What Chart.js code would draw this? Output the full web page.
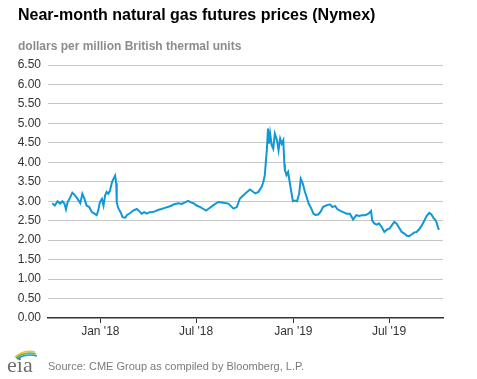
<!DOCTYPE html>
<html>
<head>
<meta charset="utf-8">
<script src="https://cdn.jsdelivr.net/npm/chart.js@4/dist/chart.umd.min.js"></script>
<style>
  html, body { margin:0; padding:0; background:#fff; }
  #wrap { position:relative; width:477px; height:379px; overflow:hidden; font-family:"Liberation Sans", Arial, sans-serif; }
  #title { position:absolute; left:18px; top:6px; font-size:16px; font-weight:bold; color:#000; white-space:nowrap; }
  #subtitle { position:absolute; left:18px; top:39px; font-size:12px; font-weight:bold; color:#8c8c8c; white-space:nowrap; }
  #source { position:absolute; left:48px; top:360px; font-size:11px; color:#7a7a7a; white-space:nowrap; }
  #logo { position:absolute; left:6px; top:348px; }
  canvas { position:absolute; left:0; top:0; }
</style>
</head>
<body>
<div id="wrap">
  <canvas id="c" width="477" height="379"></canvas>
  <div id="title">Near-month natural gas futures prices (Nymex)</div>
  <div id="subtitle">dollars per million British thermal units</div>
  <svg id="logo" width="34" height="28" viewBox="0 0 34 28">
    <path d="M9 9 Q18 1 29 4" stroke="#f2c318" stroke-width="1.6" fill="none"/>
    <path d="M10 10 Q19 3 30 6" stroke="#7ab648" stroke-width="1.6" fill="none"/>
    <path d="M11 11 Q20 5 31 8" stroke="#1a9bd7" stroke-width="1.6" fill="none"/>
    <text x="1" y="24" font-family="Liberation Serif, DejaVu Serif, serif" font-size="22" fill="#6d6e70">eia</text>
  </svg>
  <div id="source">Source: CME Group as compiled by Bloomberg, L.P.</div>
</div>
<script>
// days since Jan 1, 2018
const dayOffsets = [
  -91,-86,-81,-76,-72,-68,-65,-62,-57,-53,-48,-43,-38,-34,-30,-26,-21,-16,-11,-7,-4,-1,
  3,6,9,12,15,18,22,25,28,30,31,34,39,42,47,
  50,56,62,69,74,78,83,88,93,97,103,110,116,122,129,135,141,148,154,160,166,171,176,182,189,195,200,204,
  214,223,233,242,252,258,264,274,283,293,299,305,308,311,313,315,317,
  319,321,324,327,330,334,337,340,343,346,348,349,352,355,358,361,364,368,372,376,379,383,386,390,394,399,403,
  407,412,417,421,425,429,434,439,444,448,453,459,466,472,478,484,490,494,501,507,512,514,518,523,527,532,537,
  542,547,551,556,560,565,570,575,579,584,589,594,598,603,608,613,617,622,626,630,633,636,639,641
];
// near-month price, dollars per MMBtu
const prices = [
  2.95,2.89,3.00,2.94,3.00,2.94,2.79,2.97,3.10,3.22,3.15,3.06,2.95,3.19,3.06,2.89,2.85,2.72,2.68,2.64,2.76,2.97,
  3.06,2.89,3.15,3.24,3.19,3.26,3.49,3.58,3.66,3.46,2.97,2.82,2.70,2.59,2.58,
  2.64,2.69,2.76,2.80,2.74,2.68,2.72,2.68,2.72,2.72,2.74,2.78,2.80,2.83,2.86,2.89,2.93,2.95,2.93,2.97,3.01,2.97,2.95,2.89,2.85,2.80,2.76,2.80,
  2.90,2.98,2.96,2.94,2.81,2.85,3.07,3.20,3.30,3.20,3.24,3.37,3.48,3.67,4.01,4.35,4.87,
  4.48,4.74,4.44,4.35,4.74,4.57,4.31,4.61,4.48,4.57,3.95,3.80,3.67,3.75,3.50,3.25,3.00,3.02,3.00,3.20,3.58,3.45,3.28,3.11,2.94,2.81,2.68,
  2.65,2.66,2.74,2.85,2.88,2.90,2.92,2.85,2.88,2.80,2.76,2.72,2.68,2.68,2.53,2.64,2.62,2.64,2.64,2.68,2.75,2.51,2.43,2.40,2.43,2.34,2.21,
  2.27,2.30,2.38,2.47,2.43,2.32,2.21,2.17,2.12,2.10,2.15,2.20,2.21,2.28,2.38,2.51,2.62,2.70,2.66,2.57,2.53,2.45,2.30,2.27
];
const xTickDays = [0, 181, 365, 546];
const xTickLabels = ["Jan '18", "Jul '18", "Jan '19", "Jul '19"];
const yTickValues = [0,0.5,1,1.5,2,2.5,3,3.5,4,4.5,5,5.5,6,6.5];

const points = dayOffsets.map((d, i) => ({ x: d, y: prices[i] }));

new Chart(document.getElementById('c'), {
  type: 'line',
  data: { datasets: [{
    data: points,
    borderColor: '#1098d6',
    borderWidth: 2,
    pointRadius: 0,
    tension: 0,
    fill: false
  }]},
  options: {
    responsive: false,
    animation: false,
    layout: { padding: { top: 65, right: 34, left: 0, bottom: 0 } },
    plugins: { legend: { display: false }, tooltip: { enabled: false }, title: { display: false } },
    scales: {
      x: {
        type: 'linear',
        min: -99, max: 648,
        afterFit: s => { s.height = 61; },
        afterBuildTicks: s => { s.ticks = xTickDays.map(v => ({ value: v })); },
        ticks: {
          autoSkip: false, maxRotation: 0, padding: 1,
          color: '#333', font: { family: 'Liberation Sans, Arial, sans-serif', size: 12 },
          callback: (v) => { const i = xTickDays.indexOf(v); return i >= 0 ? xTickLabels[i] : ''; }
        },
        grid: { drawOnChartArea: false, drawTicks: true, tickLength: 5, color: '#333', lineWidth: 1 },
        border: { display: true, color: '#333', width: 1.5 }
      },
      y: {
        min: 0, max: 6.5,
        afterFit: s => { s.width = 48; },
        afterBuildTicks: s => { s.ticks = yTickValues.map(v => ({ value: v })); },
        ticks: {
          padding: 7, color: '#333',
          font: { family: 'Liberation Sans, Arial, sans-serif', size: 12 },
          callback: v => Number(v).toFixed(2)
        },
        grid: { drawTicks: false, color: ctx => ctx.tick && ctx.tick.value === 0 ? 'rgba(0,0,0,0)' : '#c6c6c6', lineWidth: 1 },
        border: { display: false }
      }
    }
  }
});
</script>
</body>
</html>
